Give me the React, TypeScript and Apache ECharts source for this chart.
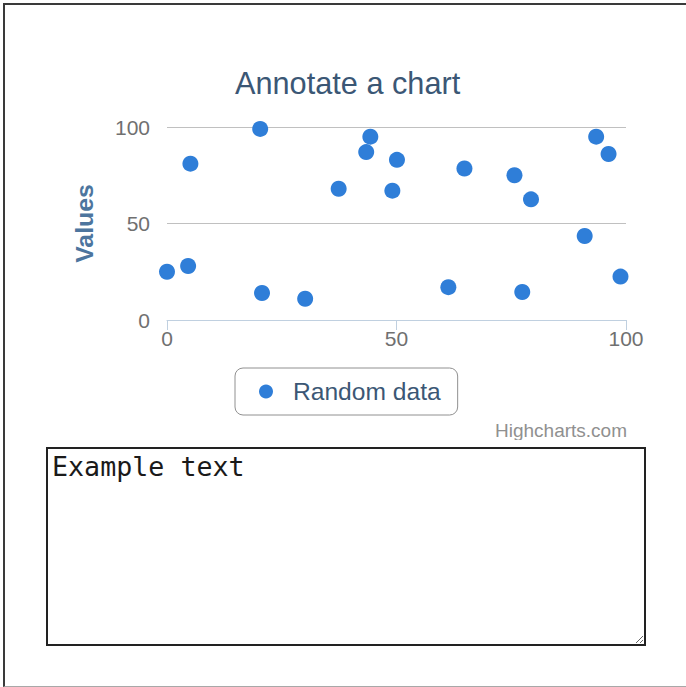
import React, { useEffect, useRef } from "react";
import * as echarts from "echarts";

const chartTitle = "Annotate a chart";
const seriesName = "Random data";
const yAxisName = "Values";
const creditText = "Highcharts.com";
const noteText = "Example text";

const xValues = [0, 4.6, 5.1, 20.3, 20.7, 30.1, 37.4, 43.4, 44.3, 49.1, 50.1, 61.3, 64.8, 75.7, 77.4, 79.3, 91.0, 93.5, 96.2, 98.8];
const yValues = [25, 28, 81, 99, 14, 11, 68, 87, 95, 67, 83, 17, 78.5, 75, 14.5, 62.5, 43.5, 95, 86, 22.5];

const xMin = 0;
const xMax = 100;
const xInterval = 50;
const yMin = 0;
const yMax = 100;
const yInterval = 50;

const FONT = "'Liberation Sans', Arial, Helvetica, sans-serif";

export default function App() {
  const ref = useRef<HTMLDivElement>(null);

  useEffect(() => {
    if (!ref.current) return;
    const chart = echarts.init(ref.current, undefined, { renderer: "svg" });
    const data = xValues.map((x, i) => [x, yValues[i]]);
    chart.setOption({
      animation: false,
      backgroundColor: "transparent",
      textStyle: { fontFamily: FONT },
      title: {
        text: chartTitle,
        left: 235,
        top: 68,
        padding: 0,
        textStyle: { fontFamily: FONT, fontSize: 30.7, fontWeight: "normal", color: "#3b5775" },
      },
      grid: { left: 167, top: 127, width: 459, height: 193, containLabel: false },
      xAxis: {
        type: "value",
        min: xMin,
        max: xMax,
        interval: xInterval,
        axisLine: { show: true, onZero: false, lineStyle: { color: "#C0D0E0", width: 1 } },
        axisTick: { show: true, length: 10, lineStyle: { color: "#C0D0E0" } },
        axisLabel: { fontFamily: FONT, fontSize: 21, color: "#707070", margin: 8 },
        splitLine: { show: false },
      },
      yAxis: {
        type: "value",
        min: yMin,
        max: yMax,
        interval: yInterval,
        name: yAxisName,
        nameLocation: "middle",
        nameGap: 70,
        nameTextStyle: { fontFamily: FONT, fontSize: 24.8, fontWeight: "bold", color: "#4d759e" },
        axisLine: { show: false },
        axisTick: { show: false },
        axisLabel: { fontFamily: FONT, fontSize: 21, color: "#707070", margin: 17 },
        splitLine: { show: true, lineStyle: { color: "#C0C0C0", width: 1 } },
      },
      legend: {
        left: 235,
        top: 368,
        orient: "horizontal",
        borderColor: "#909090",
        borderWidth: 1,
        borderRadius: 8,
        padding: [10, 17, 10, 24],
        itemWidth: 14,
        itemHeight: 14,
        icon: "circle",
        textStyle: { fontFamily: FONT, fontSize: 24.6, color: "#3b5775", padding: [0, 0, 0, 15], lineHeight: 27 },
        data: [seriesName],
      },
      graphic: [
        {
          type: "text",
          x: 627,
          y: 430,
          style: {
            text: creditText,
            fontFamily: FONT,
            fontSize: 19,
            fill: "#909090",
            textAlign: "right",
            textVerticalAlign: "middle",
          },
        },
      ],
      series: [
        {
          name: seriesName,
          type: "scatter",
          data,
          symbol: "circle",
          symbolSize: 16,
          clip: false,
          itemStyle: { color: "#2f7ed8", opacity: 1 },
        },
      ],
    });
    return () => chart.dispose();
  }, []);

  return (
    <div style={{ position: "absolute", left: 0, top: 0, width: 686, height: 687, overflow: "hidden", background: "#fff" }}>
      <div
        style={{
          position: "absolute",
          left: 3,
          top: 3,
          width: 760,
          height: 684,
          boxSizing: "border-box",
          borderLeft: "2px solid #3a3a3a",
          borderTop: "2px solid #3a3a3a",
          borderBottom: "1px solid #a8a8a8",
        }}
      />
      <div ref={ref} style={{ position: "absolute", left: 0, top: 0, width: 686, height: 440 }} />
      <textarea
        defaultValue={noteText}
        spellCheck={false}
        style={{
          position: "absolute",
          left: 46,
          top: 447,
          width: 600,
          height: 199,
          boxSizing: "border-box",
          border: "2px solid #222",
          padding: "2px 2px 2px 4px",
          margin: 0,
          fontFamily: "'DejaVu Sans Mono', monospace",
          fontSize: 26.67,
          color: "#1a1a1a",
          background: "#fff",
          outline: "none",
        }}
      />
    </div>
  );
}
